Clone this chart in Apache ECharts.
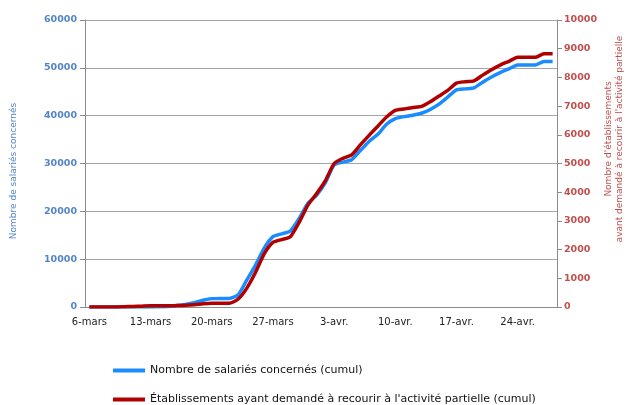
<!DOCTYPE html>
<html><head><meta charset="utf-8">
<script src="https://cdn.jsdelivr.net/npm/echarts@6/dist/echarts.min.js"></script>
<style>html,body{margin:0;padding:0;background:#fff}#c{width:626px;height:405px}</style>
</head><body><div id="c"></div>
<script>
const categories = ['6-mars','7-mars','8-mars','9-mars','10-mars','11-mars','12-mars','13-mars','14-mars','15-mars','16-mars','17-mars','18-mars','19-mars','20-mars','21-mars','22-mars','23-mars','24-mars','25-mars','26-mars','27-mars','28-mars','29-mars','30-mars','31-mars','1-avr.','2-avr.','3-avr.','4-avr.','5-avr.','6-avr.','7-avr.','8-avr.','9-avr.','10-avr.','11-avr.','12-avr.','13-avr.','14-avr.','15-avr.','16-avr.','17-avr.','18-avr.','19-avr.','20-avr.','21-avr.','22-avr.','23-avr.','24-avr.','25-avr.','26-avr.','27-avr.','28-avr.'];
const salaries = [0,0,0,0,0,0,0,0,50,100,300,550,900,1400,1750,1800,1800,2500,5600,8700,12300,14700,15300,15900,18500,21700,23400,26000,29700,30300,30800,32700,34600,36100,38200,39400,39800,40100,40500,41300,42400,43900,45400,45600,45800,47000,48100,49000,49800,50600,50600,50600,51300,51300];
const etablissements = [0,0,0,0,10,20,30,40,40,40,50,60,80,110,130,130,130,270,650,1200,1850,2250,2350,2450,2950,3550,3950,4400,5000,5180,5300,5650,5980,6300,6620,6850,6900,6950,6990,7150,7350,7550,7800,7850,7880,8080,8270,8430,8560,8700,8700,8700,8820,8820];
const seriesNames = ['Nombre de salariés concernés (cumul)', "Établissements ayant demandé à recourir à l'activité partielle (cumul)"];
const leftName = 'Nombre de salariés concernés';
const rightNameLines = ["Nombre d'établissements", "avant demandé à recourir à l'activité partielle"];

const blue = '#1a8cff', red = '#b00000';
const blueTxt = '#5585c8', redTxt = '#c0504d';
const legendBase = {
  orient:'horizontal', left:113, padding:0,
  icon:'rect', itemWidth:32, itemHeight:4, itemGap:6,
  textStyle:{fontFamily:'DejaVu Sans', fontSize:11, color:'#111'}
};
const chart = echarts.init(document.getElementById('c'), null, {renderer:'canvas'});
chart.setOption({
  animation:false,
  textStyle:{fontFamily:'DejaVu Sans'},
  grid:{left:85, right:69, top:20, bottom:98, containLabel:false},
  legend:[
    Object.assign({}, legendBase, {top:365, data:[seriesNames[0]]}),
    Object.assign({}, legendBase, {top:394, data:[seriesNames[1]]})
  ],
  xAxis:{
    type:'category', data:categories, boundaryGap:true,
    axisLine:{lineStyle:{color:'#8c8c8c', width:1}},
    axisTick:{interval:6, length:5, lineStyle:{color:'#8c8c8c'}},
    axisLabel:{interval:6, color:'#222', fontSize:10, margin:10, fontFamily:'DejaVu Sans'}
  },
  yAxis:[{
    type:'value', min:0, max:60000, interval:10000, position:'left',
    axisLine:{show:true, lineStyle:{color:'#8c8c8c'}},
    axisTick:{show:true, length:5, lineStyle:{color:'#8c8c8c'}},
    axisLabel:{color:blueTxt, fontSize:9.5, fontWeight:'bold', margin:8, formatter:v=>String(v)},
    splitLine:{show:true, lineStyle:{color:'#a6a6a6', width:1}}
  },{
    type:'value', min:0, max:10000, interval:1000, position:'right',
    axisLine:{show:true, lineStyle:{color:'#8c8c8c'}},
    axisTick:{show:true, length:5, lineStyle:{color:'#8c8c8c'}},
    axisLabel:{color:redTxt, fontSize:9.5, fontWeight:'bold', margin:7, formatter:v=>String(v)},
    splitLine:{show:false}
  }],
  graphic:[
    {type:'text', x:14, y:171, rotation:Math.PI/2, style:{text:leftName, fill:blueTxt, font:'9px "DejaVu Sans"', textAlign:'center', textVerticalAlign:'middle'}},
    {type:'text', x:609, y:139, rotation:Math.PI/2, style:{text:rightNameLines[0], fill:redTxt, font:'9px "DejaVu Sans"', textAlign:'center', textVerticalAlign:'middle'}},
    {type:'text', x:620, y:139, rotation:Math.PI/2, style:{text:rightNameLines[1], fill:redTxt, font:'9px "DejaVu Sans"', textAlign:'center', textVerticalAlign:'middle'}}
  ],
  series:[
    {name:seriesNames[0], type:'line', yAxisIndex:0, data:salaries, showSymbol:false, smooth:0.2,
     lineStyle:{color:blue, width:3.5, join:'round'}, itemStyle:{color:blue}},
    {name:seriesNames[1], type:'line', yAxisIndex:1, data:etablissements, showSymbol:false, smooth:0.2,
     lineStyle:{color:red, width:3.5, join:'round'}, itemStyle:{color:red}}
  ]
});
</script></body></html>
